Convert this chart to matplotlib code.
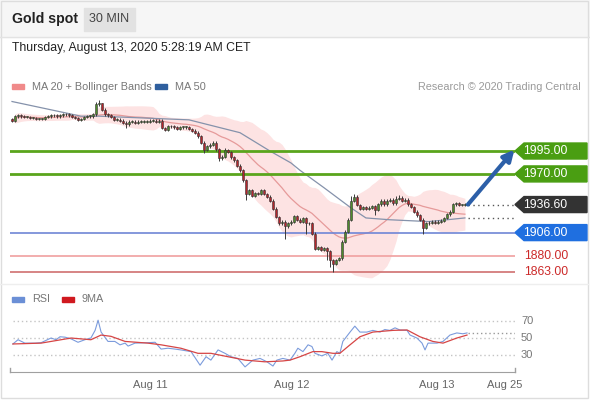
import numpy as np
import pandas as pd
import matplotlib
matplotlib.use("Agg")
import matplotlib.pyplot as plt
from matplotlib.patches import Polygon, Rectangle

plt.rcParams['font.family'] = ['Liberation Sans', 'DejaVu Sans']

# 30 min closes, Aug 10 -> Aug 13 morning
closes = [
    2028, 2033, 2034, 2033, 2032, 2032, 2031, 2031, 2030, 2030,
    2030, 2032, 2033, 2034, 2034, 2033, 2034, 2035, 2035, 2034,
    2032, 2031, 2029, 2030, 2032, 2033, 2033, 2035, 2046, 2047,
    2040, 2035, 2034, 2032, 2029, 2029, 2028, 2026, 2024, 2027,
    2027, 2026, 2027, 2027, 2027, 2027, 2028, 2028, 2027, 2028,
    2020, 2018, 2022, 2022, 2021, 2019, 2021, 2021, 2021, 2019,
    2017, 2015, 2011, 2004, 1996, 2000, 2002, 2004, 1997, 1987,
    1989, 1996, 1994, 1988, 1985, 1979, 1974, 1963, 1948, 1952,
    1946, 1949, 1948, 1952, 1948, 1945, 1941, 1932, 1923, 1916,
    1918, 1913, 1916, 1918, 1924, 1920, 1918, 1922, 1916, 1916,
    1905, 1888, 1890, 1887, 1889, 1886, 1876, 1872, 1876, 1878,
    1896, 1907, 1920, 1941, 1945, 1936, 1932, 1934, 1932, 1933,
    1935, 1931, 1937, 1941, 1937, 1941, 1942, 1938, 1943, 1944,
    1941, 1942, 1937, 1934, 1929, 1925, 1920, 1911, 1916, 1917,
    1918, 1917, 1918, 1919, 1922, 1926, 1929, 1937, 1938, 1936,
    1936, 1936.6,
]
first_open = 2030
# long wicks (candle index -> price)
wick_hi = {28: 2048, 29: 2051, 30: 2047, 71: 1998, 113: 1946, 114: 1948, 128: 1946, 129: 1947}
wick_lo = {38: 2020, 64: 1993, 69: 1984, 78: 1942, 91: 1899, 98: 1905, 105: 1876,
           106: 1868, 107: 1863, 121: 1925, 137: 1905}

ma50_idx = [0, 23, 29, 59, 76, 86, 93, 96, 104, 113, 118, 126, 139, 151]
ma50_val = [2049, 2033, 2033, 2029, 2015, 1995, 1982, 1974, 1955, 1933, 1922, 1920, 1918, 1922]

rsi_idx = [0.3, 2, 4.3, 7.7, 9.7, 13, 14.7, 16, 17.7, 19.7, 22, 24.3, 26.3, 27.7, 28.7, 29.7,
           32, 34.3, 36, 37.7, 38.7, 41, 45.3, 47.7, 49.7, 52, 54.3, 56.3, 59.7, 62.7, 64.7,
           66.3, 68.7, 71, 73, 75.3, 77.7, 80.3, 82.7, 85, 87, 88.3, 90.3, 92.7, 94.3, 95.3,
           97, 98.7, 100, 101, 103.3, 105.3, 106.7, 108.3, 109.3, 110.3, 112.7, 114.3, 116,
           118.3, 120.3, 122.7, 124.3, 126, 127.7, 129.3, 131.7, 132.7, 135, 136.7, 137.7,
           138.7, 141.7, 143.7, 146, 148.3, 150.3, 151.7]
rsi_val = [43, 48, 44, 44, 44.5, 50, 48, 51.5, 51, 49, 45, 48, 50, 59, 71, 57,
           46, 46, 42, 44, 40.5, 44, 44.5, 45, 37, 38, 37, 36, 34, 18, 28,
           24, 36, 32, 28, 26, 16, 24, 26, 22, 17, 24, 26, 24, 32, 38,
           34, 42, 40, 32, 29, 32, 24, 34, 32, 46, 57, 64, 57,
           57, 59, 57, 60, 59, 62, 59.5, 59, 53.5, 50, 44, 36,
           44, 44, 46, 53.5, 56, 55, 56]
rsi_ma_idx = [0.3, 9.7, 19.7, 26.3, 29.7, 33, 37.7, 45.3, 49.7, 56.3, 62, 66.3, 72, 77.7, 84.3,
              90.3, 92.7, 96, 100.3, 103.3, 107, 109.3, 112.7, 116, 120.3, 127, 131.7, 136,
              140.3, 143.7, 148.3, 151.7]
rsi_ma_val = [43, 44, 50, 48, 53.5, 52, 46, 44, 42, 38, 32, 32, 28, 24, 22,
              23, 24, 28, 34, 34, 32, 32, 42, 51.5, 57, 59, 59.5, 51.5,
              46, 44, 50, 53.5]

levels = [1995.0, 1970.0, 1936.6, 1906.0, 1880.0, 1863.0]
level_tag = ['#4a9e12', '#4a9e12', '#333333', '#1f6fe0', None, None]
level_line = ['#5aa51c', '#5aa51c', None, '#6f86d6', '#f0a0a0', '#d07070']
ma50_last = 1922
rsi_last = 56

day_ticks = [46, 93.3, 141.7, 164.3]
day_labels = ['Aug 11', 'Aug 12', 'Aug 13', 'Aug 25']

W, H = 590, 400
fig = plt.figure(figsize=(W / 100, H / 100), dpi=100)

def px_axes(left, top, right, bottom):
    return fig.add_axes([left / W, 1 - bottom / H, (right - left) / W, (bottom - top) / H])

ov = px_axes(0, 0, W, H)
ov.set_xlim(0, W)
ov.set_ylim(H, 0)
ov.axis('off')
ov.set_zorder(0)

# header and frame
ov.add_patch(Rectangle((0, 0), W, 37, color='#f6f6f6', zorder=0))
ov.plot([0, W], [37, 37], color='#e3e3e3', lw=1)
ov.add_patch(Rectangle((1, 1), W - 3, H - 3, fill=False, ec='#dddddd', lw=1))
ov.plot([0, W - 2], [284, 284], color='#eeeeee', lw=1)
ov.text(12, 19, 'Gold spot', fontsize=10.2, weight='bold', color='#222222', va='center')
ov.add_patch(Rectangle((84, 8), 51, 23, color='#e2e2e2'))
ov.text(109.5, 19.5, '30 MIN', fontsize=9, color='#444444', ha='center', va='center')
ov.text(12, 48, 'Thursday, August 13, 2020 5:28:19 AM CET', fontsize=8.8, color='#222222', va='center')

ov.add_patch(Rectangle((12, 84), 12, 5, color='#f08a8a'))
ov.text(32, 86.5, 'MA 20 + Bollinger Bands', fontsize=7.8, color='#777777', va='center')
ov.add_patch(Rectangle((155, 84), 12, 5, color='#2f5f9e'))
ov.text(175, 86.5, 'MA 50', fontsize=7.8, color='#777777', va='center')
ov.text(581, 86.5, 'Research \u00a9 2020 Trading Central', fontsize=7.8, color='#9a9a9a',
        va='center', ha='right')

ov.add_patch(Rectangle((12, 297), 12, 5, color='#6b8fd6'))
ov.text(32, 299.5, 'RSI', fontsize=7.8, color='#777777', va='center')
ov.add_patch(Rectangle((62, 297), 12, 5, color='#d0191f'))
ov.text(82, 299.5, '9MA', fontsize=7.8, color='#777777', va='center')

# price panel
ax = px_axes(10, 95, 515, 280)
ax.set_zorder(1)
ax.patch.set_alpha(0)
ax.set_xlim(-0.67, 167.7)
ax.set_ylim(1854.3, 2056.1)
ax.axis('off')

c = np.array(closes, dtype=float)
n = len(c)
idx = np.arange(n)
o = np.r_[first_open, c[:-1]]
hi = np.maximum(o, c) + 1.5
lo = np.minimum(o, c) - 1.5
for k, v in wick_hi.items():
    hi[k] = v
for k, v in wick_lo.items():
    lo[k] = v

s = pd.Series(c)
ma20 = s.rolling(20, min_periods=1).mean()
sd = s.rolling(20, min_periods=2).std(ddof=0).fillna(0)
ax.fill_between(idx, ma20 - 2 * sd, ma20 + 2 * sd, color='#fde3e3', lw=0, zorder=1)
ax.plot(idx, ma20, color='#e69a9a', lw=0.9, zorder=2)
ax.plot(ma50_idx, ma50_val, color='#8592ab', lw=0.9, zorder=2)

for lv, col in zip(levels, level_line):
    if col:
        lw = 2 if col == '#5aa51c' else 1.2
        ax.axhline(lv, color=col, lw=lw, zorder=2.5)

up = c >= o
ax.vlines(idx, lo, hi, color='#3a3a3a', lw=0.7, zorder=3)
ax.bar(idx, np.maximum(np.abs(c - o), 0.8), bottom=np.minimum(o, c), width=0.75,
       color=np.where(up, '#4f8a2c', '#b3262c'), edgecolor='#333333', linewidth=0.4, zorder=4)

ax.hlines([levels[2], ma50_last], n, 167.7, colors='#555555', linestyles=(0, (1, 2.5)), lw=1, zorder=2)
ax.annotate('', xy=(167.5, 1996.5), xytext=(n, levels[2]),
            arrowprops=dict(arrowstyle='-|>', color='#2c5fa8', lw=3, mutation_scale=16,
                            shrinkA=0, shrinkB=0), zorder=6, annotation_clip=False)

# tags on the right
for lv, col in zip(levels, level_tag):
    py = H - ax.transData.transform((0, lv))[1]
    if col:
        ov.add_patch(Polygon([(515, py), (524, py - 8), (587, py - 8), (587, py + 8),
                              (524, py + 8)], closed=True, color=col, zorder=5))
        ov.text(545, py, f'{lv:.2f}', fontsize=8.8, color='white', ha='center', va='center', zorder=6)
    else:
        ov.text(524, py, f'{lv:.2f}', fontsize=8.8, color='#cc2a2a', ha='left', va='center')

# RSI panel
rx = px_axes(10, 310, 515, 372)
rx.set_zorder(1)
rx.patch.set_alpha(0)
rx.set_xlim(-0.67, 167.7)
rx.set_ylim(10, 83)
for g in [70, 50, 30]:
    rx.axhline(g, color='#c4c4c4', lw=1, linestyle=(0, (1, 2)), xmin=0.005)
    rx.text(1.012, g, str(g), transform=rx.get_yaxis_transform(), fontsize=8,
            color='#777777', va='center')
rx.plot(rsi_idx, rsi_val, color='#7b9bdc', lw=0.8)
rx.plot(rsi_ma_idx, rsi_ma_val, color='#d64545', lw=0.9)
rx.hlines(rsi_last, n, 167.7, colors='#999999', linestyles=(0, (1, 2)), lw=1)
for sp in ['top', 'right', 'left']:
    rx.spines[sp].set_visible(False)
rx.spines['bottom'].set_color('#a0a0a0')
rx.plot([0, 0], [0, 0.07], transform=rx.transAxes, color='#a0a0a0', lw=1, clip_on=False)
rx.plot([1, 1], [0, 0.07], transform=rx.transAxes, color='#a0a0a0', lw=1, clip_on=False)
rx.set_yticks([])
rx.set_xticks(day_ticks)
rx.set_xticklabels(day_labels)
rx.tick_params(axis='x', length=0, pad=6, labelsize=8, labelcolor='#666666')

fig.savefig('out.png', dpi=100)
